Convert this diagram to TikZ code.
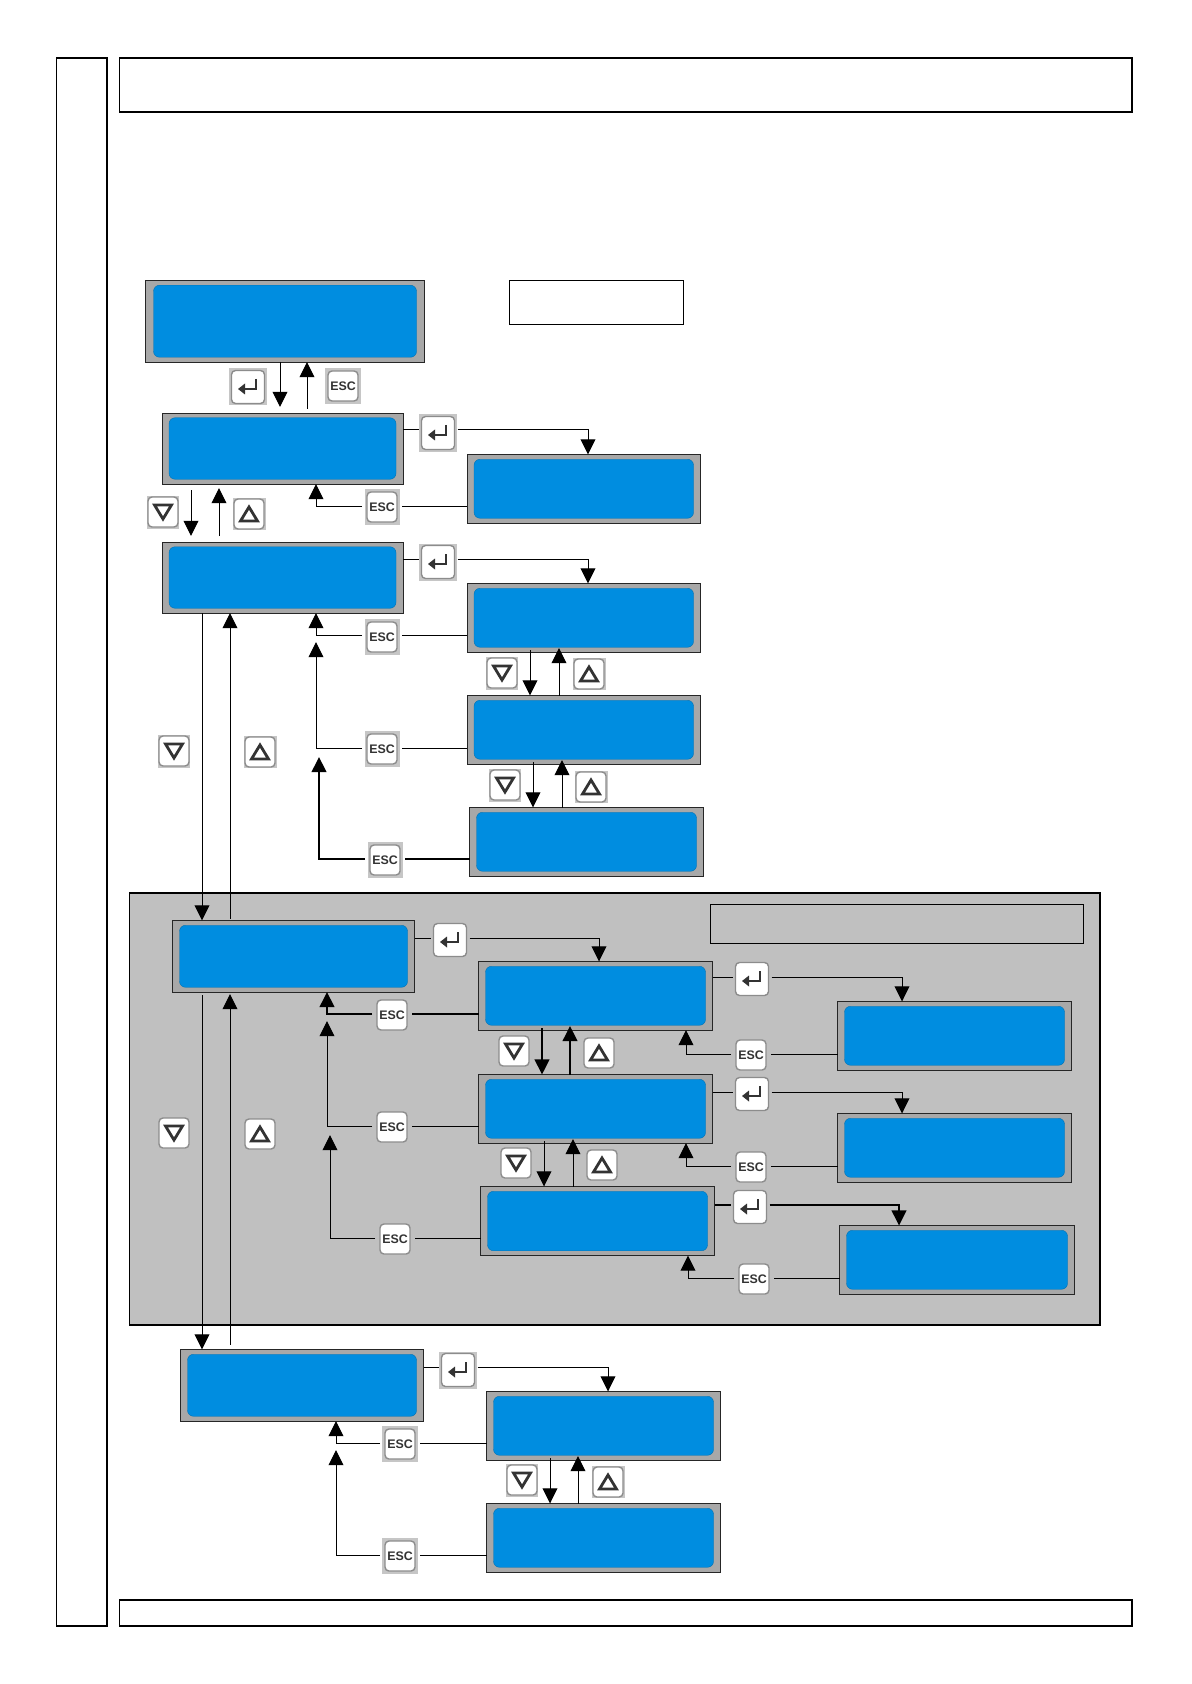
\documentclass[tikz,border=0pt]{standalone}
\usepackage{fontspec}
\setmainfont{Liberation Sans}
\usetikzlibrary{arrows.meta,calc}
\definecolor{lcdgray}{HTML}{A8A8A8}
\definecolor{lcdblue}{HTML}{008DE0}
\definecolor{panelgray}{HTML}{C0C0C0}
\definecolor{halogray}{HTML}{C6C6C6}
\definecolor{keyedge}{HTML}{8C8C8C}
\definecolor{glyphdark}{HTML}{333333}
\tikzset{
  x=0.5pt,y=-0.5pt,
  conn/.style={draw=black,line width=0.5pt},
  heavy/.style={line width=0.85pt},
  arr/.style={-{Triangle[length=7.6pt,width=7.4pt]}},
  lcdouter/.style={draw=black!85,fill=lcdgray,line width=0.42pt,inner sep=0pt,outer sep=0pt},
  lcdinner/.style={fill=lcdblue,draw=lcdblue!80!black,line width=0.2pt,rounded corners=3pt,inner sep=0pt,outer sep=0pt},
  framebox/.style={draw=black,line width=0.85pt,inner sep=0pt,outer sep=0pt},
  thinbox/.style={draw=black,line width=0.5pt,inner sep=0pt,outer sep=0pt},
  keyhalo/.style={fill=halogray,inner sep=0pt,outer sep=0pt},
  keybase/.style={fill=white,draw=keyedge,line width=0.7pt,rounded corners=2pt,inner sep=0pt,text=glyphdark},
  esckey/.style={keybase,minimum width=15pt,minimum height=15pt,outer sep=2.5pt,font=\fontsize{6.2}{7}\selectfont\bfseries},
  enterkey/.style={keybase,minimum width=16.5pt,minimum height=16.5pt,outer sep=1.5pt},
  arrowkey/.style={keybase,minimum width=15pt,minimum height=15pt,outer sep=1pt},
  glyph/.style={draw=glyphdark,line width=1.4pt,line join=miter},
}
\newcommand{\boxnode}[6]{%style,name,x1,y1,x2,y2
  \node[#1,minimum width={(#5-#3)*0.5pt},minimum height={(#6-#4)*0.5pt}] (#2) at ({(#3+#5)/2},{(#4+#6)/2}) {};}
\newcommand{\lcd}[6][7]{%padx,name,x1,y1,x2,y2
  \boxnode{lcdouter}{#2}{#3}{#4}{#5}{#6}
  \node[lcdinner,minimum width={(#5-#3-2*#1)*0.5pt},minimum height={(#6-#4-9.5)*0.5pt}] (#2-screen) at ({(#3+#5)/2},{(#4+#6)/2}) {};}
\newcommand{\halo}[5]{\node[keyhalo,minimum width={#4*0.5pt},minimum height={#5*0.5pt}] (#1-halo) at (#2,#3) {};}
\newcommand{\esc}[3]{\node[esckey] (#1) at (#2,#3) {ESC};}
\newcommand{\enter}[3]{\node[enterkey] (#1) at (#2,#3) {};
  \draw[glyph] ($(#1.center)+(8,-8)$) -- ($(#1.center)+(8,2)$) -- ($(#1.center)+(-4,2)$);
  \fill[glyphdark] ($(#1.center)+(-10,2)$) -- ($(#1.center)+(-3,-3.5)$) -- ($(#1.center)+(-3,7.5)$) -- cycle;}
\newcommand{\downkey}[3]{\node[arrowkey] (#1) at (#2,#3) {};
  \draw[glyph] ($(#1.center)+(-8.5,-7)$) -- ($(#1.center)+(8.5,-7)$) -- ($(#1.center)+(0,7)$) -- cycle;}
\newcommand{\upkey}[3]{\node[arrowkey] (#1) at (#2,#3) {};
  \draw[glyph] ($(#1.center)+(-8.5,7)$) -- ($(#1.center)+(8.5,7)$) -- ($(#1.center)+(0,-7)$) -- cycle;}
% enter connector: lcd, key, target lcd, arrow x, line y
\newcommand{\enterlink}[6][]{%
  \coordinate (#3-c) at (#5,#6);
  \draw[conn,#1] (#2.east |- #3-c) -- (#3.west |- #3-c);
  \draw[conn,arr,#1] (#3.east |- #3-c) -| (#4.north -| #3-c);}
% esc connector: from lcd, key, target lcd, arrow x, line y
\newcommand{\esclink}[6][]{%
  \coordinate (#3-c) at (#5,#6);
  \draw[conn,#1] (#2.west |- #3-c) -- (#3.east |- #3-c);
  \draw[conn,arr,#1] (#3.west |- #3-c) -| (#4.south -| #3-c);}
% esc connector with a free arrow tip: from lcd, key, arrow x, line y, tip y
\newcommand{\escfree}[6][]{%
  \coordinate (#3-c) at (#4,#5);
  \coordinate (#3-t) at (#4,#6);
  \draw[conn,#1] (#2.west |- #3-c) -- (#3.east |- #3-c);
  \draw[conn,arr,#1] (#3.west |- #3-c) -| (#3-t);}
% up/down pair: upper lcd, lower lcd, x down, x up
\newcommand{\updown}[5][]{%
  \coordinate (#2-dn) at (#4,0);
  \coordinate (#2-up) at (#5,0);
  \draw[conn,arr,#1] ($(#2.south -| #2-dn)+(0,-2)$) -- (#3.north -| #2-dn);
  \draw[conn,arr,#1] (#3.north -| #2-up) -- ($(#2.south -| #2-up)+(0,-4)$);}
\begin{document}
\begin{tikzpicture}
\useasboundingbox (0,0) rectangle (1191,1684);
\fill[white] (0,0) rectangle (1191,1684);
% page frames
\boxnode{framebox}{sideframe}{56.5}{58}{107}{1626}
\boxnode{framebox}{topframe}{119.5}{58}{1132}{112}
\boxnode{framebox}{bottomframe}{119.5}{1600}{1132}{1626}
\boxnode{thinbox}{upperlabel}{509.5}{280.5}{683}{325}
% grey panel
\boxnode{framebox,fill=panelgray}{panel}{129.5}{893}{1100}{1325}
\boxnode{thinbox}{panellabel}{710}{904}{1083}{943}
% displays
\lcd[8]{A}{145.5}{280.5}{424.5}{362}
\lcd{B}{162}{413}{403}{484}
\lcd{C}{467}{454.5}{700.5}{523}
\lcd{D}{162}{542}{403}{613}
\lcd{E}{467}{583.5}{700.5}{652}
\lcd{F}{467}{695.5}{700.5}{764}
\lcd{G}{469.5}{807.5}{703.5}{876}
\lcd{H}{172.5}{920.5}{414.5}{992}
\lcd{I}{478.5}{961.5}{712.5}{1030}
\lcd{J}{478.5}{1074.5}{712.5}{1143}
\lcd{K}{480.5}{1186.5}{714.5}{1255.5}
\lcd{L}{837.5}{1001.5}{1071.5}{1070}
\lcd{M}{837.5}{1113.5}{1071.5}{1182}
\lcd{N}{839.5}{1225.5}{1074.5}{1294}
\lcd{O}{180.5}{1349.5}{423.5}{1421}
\lcd{P}{486.5}{1391.5}{720.5}{1460}
\lcd{Q}{486.5}{1503.5}{720.5}{1572}
% keys outside the panel (with a halo)
\halo{ka}{248}{387}{38}{37}\enter{ka}{248}{387}
\halo{kb}{343}{386}{36}{36}\esc{kb}{343}{386}
\halo{kc}{438}{433}{38}{37}\enter{kc}{438}{433}
\halo{kd}{382}{507}{35}{36}\esc{kd}{382}{507}
\halo{ke}{163}{512}{32}{33}\downkey{ke}{163}{512}
\halo{kf}{249}{514}{33}{32}\upkey{kf}{249}{514}
\halo{kg}{438}{562}{38}{37}\enter{kg}{438}{562}
\halo{kh}{382}{637}{35}{36}\esc{kh}{382}{637}
\halo{ki}{502}{673}{32}{33}\downkey{ki}{502}{673}
\halo{kj}{589}{674}{33}{32}\upkey{kj}{589}{674}
\halo{kk}{382}{749}{35}{36}\esc{kk}{382}{749}
\halo{kl}{505}{785}{32}{33}\downkey{kl}{505}{785}
\halo{km}{591}{787}{33}{32}\upkey{km}{591}{787}
\halo{kn}{385}{860}{35}{36}\esc{kn}{385}{860}
\halo{ko}{174}{751}{32}{33}\downkey{ko}{174}{751}
\halo{kp}{260}{752}{33}{32}\upkey{kp}{260}{752}
\halo{kq}{458}{1370}{38}{37}\enter{kq}{458}{1370}
\halo{kr}{400}{1444}{36}{36}\esc{kr}{400}{1444}
\halo{ks}{522}{1480}{32}{33}\downkey{ks}{522}{1480}
\halo{kt}{608}{1482}{33}{32}\upkey{kt}{608}{1482}
\halo{ku}{400}{1556}{36}{36}\esc{ku}{400}{1556}
% keys inside the panel
\enter{pa}{450}{940}
\esc{pb}{392}{1015}
\esc{pc}{392}{1127}
\esc{pd}{395}{1239}
\downkey{pe}{514}{1051}
\upkey{pf}{599}{1053}
\downkey{pg}{516}{1163}
\upkey{ph}{602}{1165}
\downkey{pi}{174}{1133}
\upkey{pj}{260}{1134}
\enter{pk}{752}{979}
\esc{pl}{751}{1055}
\enter{pm}{752}{1094}
\esc{pn}{751}{1167}
\enter{po}{750}{1207}
\esc{pp}{754}{1279}
% A <-> B
\coordinate (abdn) at (280,0);
\coordinate (abup) at (307,0);
\draw[conn,arr] (A.south -| abdn) -- ($(B.north -| abdn)+(0,-6)$);
\draw[conn,arr] ($(B.north -| abup)+(0,-4)$) -- (A.south -| abup);
% B <-> D
\coordinate (bddn) at (191,0);
\coordinate (bdup) at (219,0);
\draw[conn,arr] ($(B.south -| bddn)+(0,6)$) -- ($(D.north -| bddn)+(0,-6)$);
\draw[conn,arr] ($(D.north -| bdup)+(0,-6)$) -- ($(B.south -| bdup)+(0,4)$);
% side displays
\enterlink{B}{kc}{C}{588}{430}
\esclink{C}{kd}{B}{316}{506}
\enterlink{D}{kg}{E}{588}{559}
\esclink{E}{kh}{D}{316}{635}
\updown{E}{F}{530}{559}
\escfree{F}{kk}{316}{748}{642}
\updown{F}{G}{533}{562}
\escfree[heavy]{G}{kn}{319}{859}{757}
% D <-> H <-> O
\coordinate (mdn) at (202,0);
\coordinate (mup) at (230,0);
\draw[conn,arr] (D.south -| mdn) -- (H.north -| mdn);
\draw[conn,arr] ($(H.north -| mup)+(0,-2)$) -- (D.south -| mup);
\draw[conn,arr] ($(H.south -| mdn)+(0,3)$) -- (O.north -| mdn);
\draw[conn,arr] ($(O.north -| mup)+(0,-5)$) -- ($(H.south -| mup)+(0,2)$);
% panel connectors
\enterlink{H}{pa}{I}{599}{938}
\esclink[heavy]{I}{pb}{H}{327}{1014}
\escfree{J}{pc}{327}{1126}{1021}
\escfree{K}{pd}{330}{1238}{1135}
\updown[heavy]{I}{J}{542}{570}
\updown{J}{K}{544}{573}
\enterlink{I}{pk}{L}{902}{977}
\esclink{L}{pl}{I}{686}{1054}
\enterlink{J}{pm}{M}{902}{1092}
\esclink{M}{pn}{J}{686}{1166}
\enterlink[heavy]{K}{po}{N}{899}{1205}
\esclink{N}{pp}{K}{688}{1278}
% bottom group
\enterlink{O}{kq}{P}{608}{1367}
\esclink{P}{kr}{O}{336}{1443}
\updown{P}{Q}{550}{578}
\escfree{Q}{ku}{336}{1555}{1450}
\end{tikzpicture}
\end{document}
